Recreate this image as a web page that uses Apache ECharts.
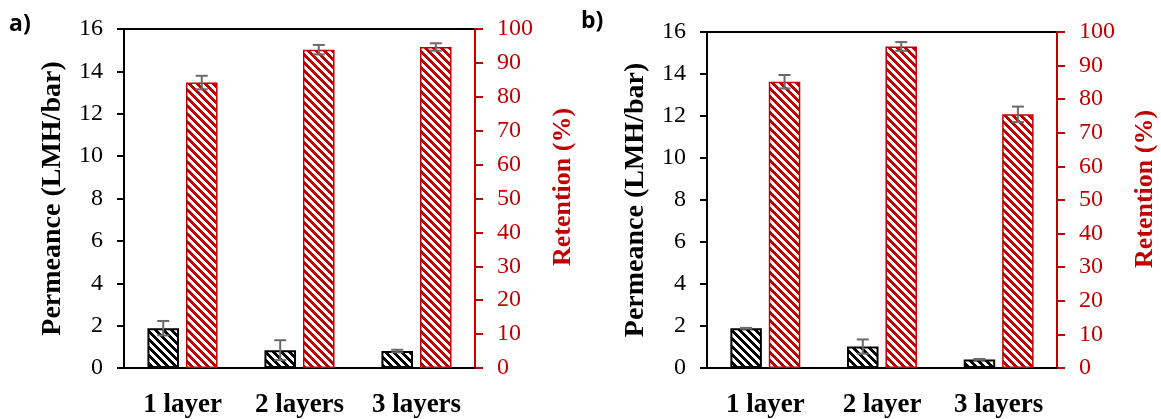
<!DOCTYPE html>
<html>
<head>
<meta charset="utf-8">
<script src="https://cdn.jsdelivr.net/npm/echarts@6/dist/echarts.min.js"></script>
<style>
  html, body { margin: 0; padding: 0; background: #fff; }
  #chart { width: 1161px; height: 419px; }
</style>
</head>
<body>
<div id="chart"></div>
<script>
// values
const categoriesA = ['1 layer', '2 layers', '3 layers'];
const categoriesB = ['1 layer', '2 layer', '3 layers'];
const permeanceA = [1.88, 0.84, 0.80];
const permeanceErrA = [0.34, 0.47, 0.06];
const retentionA = [84.2, 93.9, 94.7];
const retentionErrA = [2.0, 1.4, 1.1];
const permeanceB = [1.89, 1.02, 0.41];
const permeanceErrB = [0.02, 0.34, 0.02];
const retentionB = [85.2, 95.7, 75.5];
const retentionErrB = [2.0, 1.3, 2.3];
const permeanceTicks = { min: 0, max: 16, interval: 2 };
const retentionTicks = { min: 0, max: 100, interval: 10 };

const RED = '#c00000';
const GREY = '#6a6a6a';
const SERIF = 'Liberation Serif';
const BAR_W = 0.27;
const BAR_GAP = 0.22;

// diagonal hatch, like excel "wide downward diagonal"
function hatch(color) {
  let p = 8;
  let c = document.createElement('canvas');
  c.width = p; c.height = p;
  let ctx = c.getContext('2d');
  ctx.fillStyle = '#fff';
  ctx.fillRect(0, 0, p, p);
  ctx.fillStyle = color;
  for (let x = 0; x < p; x++) {
    for (let y = 0; y < p; y++) {
      if (((x - y) % p + p) % p < 4) ctx.fillRect(x, y, 1, 1);
    }
  }
  return { image: c, repeat: 'repeat' };
}

function errSeries(xi, yi, vals, errs, side) {
  return {
    type: 'custom',
    xAxisIndex: xi,
    yAxisIndex: yi,
    z: 5,
    data: vals.map((v, i) => [i, v, errs[i]]),
    renderItem: function (params, api) {
      let band = api.size([1, 0])[0];
      let bw = band * BAR_W;
      let off = side * (bw + bw * BAR_GAP) / 2;
      let top = api.coord([api.value(0), api.value(1) + api.value(2)]);
      let bot = api.coord([api.value(0), api.value(1) - api.value(2)]);
      let x = top[0] + off;
      let cap = 6;
      let st = { stroke: GREY, lineWidth: 2 };
      return {
        type: 'group',
        children: [
          { type: 'line', shape: { x1: x, y1: top[1], x2: x, y2: bot[1] }, style: st },
          { type: 'line', shape: { x1: x - cap, y1: top[1], x2: x + cap, y2: top[1] }, style: st },
          { type: 'line', shape: { x1: x - cap, y1: bot[1], x2: x + cap, y2: bot[1] }, style: st }
        ]
      };
    }
  };
}

function xAx(gi, cats) {
  return {
    type: 'category',
    gridIndex: gi,
    data: cats,
    axisLine: { lineStyle: { color: '#000', width: 2 } },
    axisTick: { show: false },
    axisLabel: { color: '#000', fontFamily: SERIF, fontWeight: 'bold', fontSize: 27, margin: 24 }
  };
}

function leftAx(gi) {
  return Object.assign({
    type: 'value',
    gridIndex: gi,
    position: 'left',
    name: 'Permeance (LMH/bar)',
    nameLocation: 'middle',
    nameGap: 57,
    nameTextStyle: { color: '#000', fontFamily: SERIF, fontWeight: 'bold', fontSize: 28 },
    axisLine: { show: true, lineStyle: { color: '#000', width: 2 } },
    axisTick: { show: true, length: 7, lineStyle: { color: '#000', width: 2 } },
    axisLabel: { color: '#000', fontFamily: SERIF, fontSize: 24, margin: 21 },
    splitLine: { show: false }
  }, permeanceTicks);
}

function rightAx(gi) {
  return Object.assign({
    type: 'value',
    gridIndex: gi,
    position: 'right',
    axisLine: { show: true, lineStyle: { color: RED, width: 2 } },
    axisTick: { show: true, length: 8, lineStyle: { color: RED, width: 2 } },
    axisLabel: { color: RED, fontFamily: SERIF, fontSize: 24, margin: 22 },
    splitLine: { show: false }
  }, retentionTicks);
}

function barSeries(xi, yi, vals, black) {
  return {
    type: 'bar',
    xAxisIndex: xi,
    yAxisIndex: yi,
    data: vals,
    barWidth: (BAR_W * 100) + '%',
    barGap: (BAR_GAP * 100) + '%',
    itemStyle: {
      color: hatch(black ? '#000' : RED),
      borderColor: black ? '#000' : RED,
      borderWidth: black ? 2 : 1.5
    }
  };
}

function retentionTitle(x, y) {
  return {
    type: 'text', x: x, y: y, rotation: Math.PI / 2,
    style: {
      text: 'Retention (%)', fill: RED, align: 'center', verticalAlign: 'middle',
      font: 'bold 26px "Liberation Serif"'
    }
  };
}

let chart = echarts.init(document.getElementById('chart'));
chart.setOption({
  animation: false,
  grid: [
    { left: 124, top: 29, width: 351, height: 343, show: true, borderColor: '#000', borderWidth: 2, backgroundColor: 'transparent' },
    { left: 707, top: 32, width: 350, height: 336, show: true, borderColor: '#000', borderWidth: 2, backgroundColor: 'transparent' }
  ],
  xAxis: [xAx(0, categoriesA), xAx(1, categoriesB)],
  yAxis: [leftAx(0), rightAx(0), leftAx(1), rightAx(1)],
  graphic: [
    { type: 'text', x: 9, y: 24, style: { text: 'a)', font: 'bold 23px "Open Sans"', fill: '#000', verticalAlign: 'middle' } },
    { type: 'text', x: 581, y: 21, style: { text: 'b)', font: 'bold 23px "Open Sans"', fill: '#000', verticalAlign: 'middle' } },
    retentionTitle(563, 187),
    retentionTitle(1145, 189)
  ],
  series: [
    barSeries(0, 0, permeanceA, true),
    barSeries(0, 1, retentionA, false),
    errSeries(0, 0, permeanceA, permeanceErrA, -1),
    errSeries(0, 1, retentionA, retentionErrA, 1),
    barSeries(1, 2, permeanceB, true),
    barSeries(1, 3, retentionB, false),
    errSeries(1, 2, permeanceB, permeanceErrB, -1),
    errSeries(1, 3, retentionB, retentionErrB, 1)
  ]
});
</script>
</body>
</html>
